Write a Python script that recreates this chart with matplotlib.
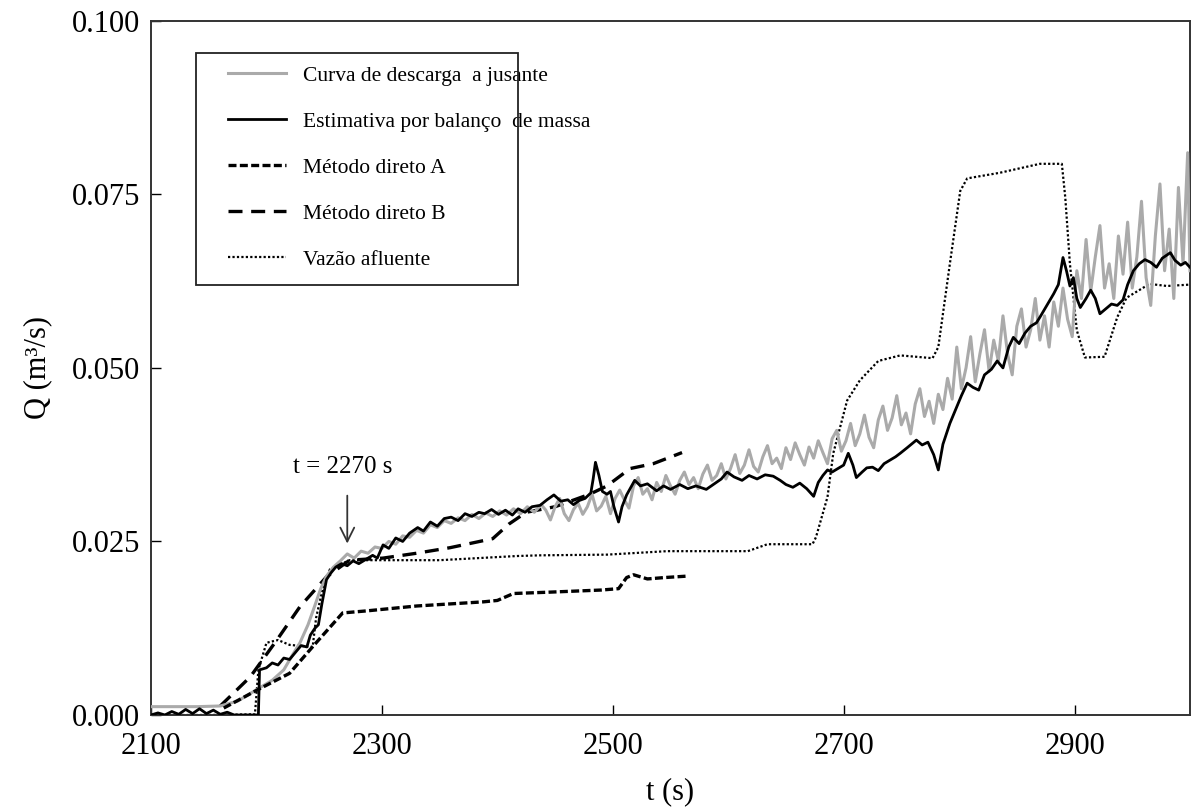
import matplotlib
matplotlib.use("Agg")
import matplotlib.pyplot as plt
from matplotlib.patches import Rectangle

plt.rcParams['font.family'] = ['Liberation Serif', 'DejaVu Serif']

# Curva de descarga a jusante (gray, noisy)
t_curva = [2100, 2120, 2140, 2160, 2175, 2190, 2205, 2215, 2222, 2229, 2236, 2242, 2247, 2252, 2258,
           2264, 2270, 2276, 2282, 2288, 2294, 2300, 2306, 2312, 2318, 2324, 2330, 2336, 2342, 2348,
           2354, 2360, 2366, 2372, 2378, 2384, 2390, 2396, 2402, 2408, 2414, 2420, 2426, 2432, 2438,
           2442, 2446, 2450, 2454, 2458, 2462, 2466, 2470, 2474, 2478, 2482, 2486, 2490, 2494, 2498,
           2502, 2506, 2510, 2514, 2518, 2522, 2526, 2530, 2534, 2538, 2542, 2546, 2550, 2554, 2558,
           2562, 2566, 2570, 2574, 2578, 2582, 2586, 2590, 2594, 2598, 2602, 2606, 2610, 2614, 2618,
           2622, 2626, 2630, 2634, 2638, 2642, 2646, 2650, 2654, 2658, 2662, 2666, 2670, 2674, 2678,
           2682, 2686, 2690, 2694, 2698, 2702, 2706, 2710, 2714, 2718, 2722, 2726, 2730, 2734, 2738,
           2742, 2746, 2750, 2754, 2758, 2762, 2766, 2770, 2774, 2778, 2782, 2786, 2790, 2794, 2798,
           2802, 2806, 2810, 2814, 2818, 2822, 2826, 2830, 2834, 2838, 2842, 2846, 2850, 2854, 2858,
           2862, 2866, 2870, 2874, 2878, 2882, 2886, 2890, 2894, 2898, 2902, 2906, 2910, 2914, 2918,
           2922, 2926, 2930, 2934, 2938, 2942, 2946, 2950, 2954, 2958, 2962, 2966, 2970, 2974, 2978,
           2982, 2986, 2990, 2994, 2998, 3000]
q_curva = [.0012, .0012, .0012, .0013, .0020, .0035, .0050, .0065, .0085, .0104, .0130, .0158, .0182, .0200, .0213,
           .0222, .0232, .0226, .0236, .0233, .0242, .0240, .0250, .0246, .0258, .0256, .0266, .0262, .0274, .0270,
           .0280, .0276, .0284, .0280, .0289, .0283, .0291, .0286, .0294, .0288, .0297, .0290, .0300, .0292, .0303,
           .0295, .0281, .0300, .0312, .0290, .0280, .0296, .0305, .0289, .0300, .0318, .0294, .0301, .0315, .0290,
           .0312, .0324, .0310, .0298, .0330, .0342, .0318, .0326, .0310, .0335, .0322, .0345, .0330, .0318, .0338,
           .0350, .0332, .0342, .0326, .0347, .0360, .0338, .0345, .0362, .0340, .0355, .0375, .0348, .0360, .0382,
           .0358, .0350, .0372, .0388, .0362, .0370, .0355, .0385, .0368, .0392, .0375, .0360, .0386, .0370, .0395,
           .0378, .0362, .0398, .0410, .0380, .0395, .0420, .0388, .0405, .0432, .0400, .0385, .0425, .0445, .0410,
           .0428, .0460, .0418, .0435, .0405, .0448, .0470, .0430, .0452, .0420, .0462, .0440, .0485, .0455, .0530,
           .0470, .0500, .0545, .0480, .0520, .0555, .0495, .0540, .0510, .0575, .0520, .0490, .0560, .0585, .0530,
           .0555, .0600, .0540, .0575, .0530, .0595, .0560, .0615, .0570, .0545, .0640, .0600, .0685, .0610, .0660,
           .0705, .0615, .0650, .0600, .0690, .0635, .0710, .0615, .0660, .0740, .0630, .0590, .0690, .0765, .0640,
           .0700, .0600, .0760, .0650, .0810, .0640]

# Estimativa por balanco de massa (black solid)
t_balanco = [2100, 2106, 2112, 2118, 2124, 2130, 2136, 2142, 2148, 2154, 2160, 2166, 2172, 2180, 2193,
             2194, 2200, 2205, 2210, 2215, 2220, 2226, 2230, 2235, 2238, 2242, 2245, 2248, 2252, 2256,
             2260, 2265, 2270, 2275, 2280, 2287, 2292, 2296, 2301, 2306, 2312, 2318, 2324, 2331, 2336,
             2342, 2348, 2354, 2360, 2366, 2372, 2378, 2384, 2389, 2395, 2401, 2407, 2413, 2418, 2424,
             2430, 2437, 2443, 2449, 2455, 2461, 2466, 2471, 2476, 2481, 2483, 2485, 2488, 2491, 2495,
             2498, 2501, 2505, 2508, 2512, 2519, 2524, 2530, 2538, 2544, 2550, 2558, 2565, 2572, 2581,
             2588, 2594, 2599, 2605, 2612, 2618, 2625, 2632, 2639, 2645, 2650, 2656, 2662, 2668, 2674,
             2678, 2682, 2686, 2690, 2695, 2700, 2704, 2708, 2711, 2716, 2720, 2725, 2730, 2735, 2740,
             2745, 2749, 2755, 2760, 2763, 2768, 2773, 2778, 2782, 2786, 2792, 2797, 2802, 2807, 2812,
             2817, 2822, 2828, 2833, 2838, 2843, 2847, 2852, 2857, 2862, 2867, 2870, 2876, 2882, 2886,
             2890, 2893, 2896, 2899, 2902, 2905, 2910, 2914, 2918, 2922, 2927, 2932, 2937, 2942, 2946,
             2951, 2956, 2961, 2966, 2971, 2976, 2983, 2987, 2992, 2996, 3000]
q_balanco = [.0000, .0003, .0000, .0005, .0001, .0008, .0002, .0009, .0002, .0007, .0001, .0004, .0000, .0000, .0000,
             .0065, .0068, .0075, .0072, .0082, .0080, .0092, .0100, .0098, .0115, .0125, .0130, .0160, .0195, .0205,
             .0213, .0218, .0215, .0222, .0218, .0225, .0230, .0226, .0245, .0240, .0255, .0250, .0262, .0270, .0265,
             .0278, .0272, .0283, .0285, .0280, .0290, .0286, .0292, .0290, .0296, .0289, .0295, .0288, .0297, .0292,
             .0300, .0302, .0310, .0317, .0308, .0310, .0303, .0309, .0312, .0320, .0340, .0364, .0345, .0322, .0318,
             .0322, .0300, .0278, .0300, .0317, .0338, .0330, .0333, .0323, .0330, .0325, .0332, .0326, .0330, .0325,
             .0333, .0340, .0350, .0343, .0338, .0345, .0340, .0346, .0344, .0338, .0332, .0328, .0334, .0326, .0315,
             .0335, .0345, .0353, .0350, .0355, .0360, .0377, .0360, .0342, .0350, .0356, .0357, .0352, .0362, .0367,
             .0372, .0377, .0385, .0392, .0396, .0389, .0393, .0375, .0353, .0390, .0420, .0440, .0460, .0478, .0472,
             .0468, .0490, .0498, .0510, .0500, .0530, .0544, .0535, .0550, .0560, .0565, .0573, .0590, .0607, .0620,
             .0659, .0640, .0618, .0630, .0600, .0587, .0600, .0612, .0600, .0578, .0585, .0592, .0590, .0598, .0620,
             .0640, .0650, .0656, .0652, .0645, .0658, .0666, .0655, .0648, .0652, .0645]

# Metodo direto A
t_metA = [2163, 2192, 2220, 2243, 2266, 2287, 2330, 2388, 2400, 2414, 2446, 2490, 2505, 2512, 2518, 2530, 2545, 2564]
q_metA = [.0010, .0036, .0060, .0104, .0147, .0150, .0157, .0163, .0165, .0175, .0177, .0180, .0182, .0198, .0202, .0196, .0198, .0200]

# Metodo direto B
t_metB = [2160, 2186, 2209, 2229, 2252, 2272, 2301, 2330, 2359, 2396, 2410, 2425, 2450, 2480, 2495, 2515, 2535, 2560]
q_metB = [.0013, .0055, .0108, .0156, .0199, .0223, .0226, .0233, .0241, .0254, .0275, .0292, .0300, .0318, .0330, .0355, .0362, .0378]

# Vazao afluente (dotted)
t_vazao = [2100, 2150, 2190, 2193, 2200, 2210, 2220, 2240, 2243, 2249, 2255, 2272, 2301, 2350, 2417,
           2437, 2495, 2547, 2617, 2634, 2673, 2676, 2686, 2691, 2703, 2714, 2730, 2749, 2777, 2782,
           2792, 2801, 2807, 2835, 2870, 2889, 2892, 2896, 2902, 2909, 2926, 2937, 2945, 2965, 2980, 3000]
q_vazao = [.0000, .0000, .0001, .0065, .0104, .0108, .0101, .0098, .0140, .0184, .0210, .0223, .0223, .0223, .0229,
           .0230, .0231, .0236, .0236, .0246, .0246, .0256, .0314, .0377, .0453, .0482, .0510, .0518, .0514, .0530,
           .0650, .0755, .0773, .0781, .0794, .0794, .0745, .0650, .0554, .0515, .0516, .0573, .0601, .0621, .0618, .0620]

labels = ["Curva de descarga  a jusante", "Estimativa por balanço  de massa",
          "Método direto A", "Método direto B", "Vazão afluente"]

fig = plt.figure(figsize=(11.92, 8.10), dpi=100)
ax = fig.add_axes([0.1267, 0.1173, 0.8716, 0.857])

ax.plot(t_metB, q_metB, color="black", lw=2.4, dashes=(4.2, 2.6), label=labels[3], zorder=2)
ax.plot(t_vazao, q_vazao, color="black", lw=1.6, dashes=(1, 1), label=labels[4], zorder=2)
ax.plot(t_curva, q_curva, color="#aaaaaa", lw=2.2, label=labels[0], zorder=3)
ax.plot(t_balanco, q_balanco, color="black", lw=2.0, label=labels[1], zorder=4)
ax.plot(t_metA, q_metA, color="black", lw=2.4, dashes=(2.4, 1.0), label=labels[2], zorder=5)

ax.set_xlim(2100, 3000)
ax.set_ylim(0, 0.1)
ax.set_xticks([2100, 2300, 2500, 2700, 2900])
ax.set_yticks([0, 0.025, 0.05, 0.075, 0.1])
ax.set_yticklabels(["%.3f" % v for v in [0, 0.025, 0.05, 0.075, 0.1]])
ax.tick_params(direction="in", length=7, width=1, labelsize=22, colors="black")
ax.tick_params(axis="x", pad=12)
ax.tick_params(axis="y", pad=8)
for s in ax.spines.values():
    s.set_linewidth(1.4)
    s.set_color("#333333")

ax.set_xlabel("t (s)", fontsize=22, labelpad=12)
ax.set_ylabel("Q (m³/s)", fontsize=22, labelpad=14)

# annotation
ax.annotate("", xy=(2270, 0.0243), xytext=(2270, 0.0320),
            arrowprops=dict(arrowstyle="->", color="#333333", lw=1.3, mutation_scale=25))
ax.text(2266, 0.0357, "t = 2270 s", fontsize=18, ha="center", va="center")

# legend (text overflows the drawn box as in the original)
handles, labs = ax.get_legend_handles_labels()
order = [labs.index(l) for l in labels]
leg = ax.legend([handles[i] for i in order], [labs[i] for i in order],
                loc="upper left", bbox_to_anchor=(0.074, 0.935), frameon=False,
                fontsize=15.5, handlelength=2.7, handletextpad=0.8, labelspacing=1.2,
                borderpad=0, borderaxespad=0)
ax.add_patch(Rectangle((0.0433, 0.620), 0.3097, 0.334, transform=ax.transAxes,
                       fill=False, edgecolor="#222222", lw=1.3, zorder=6))

fig.savefig("out.png", dpi=100)
